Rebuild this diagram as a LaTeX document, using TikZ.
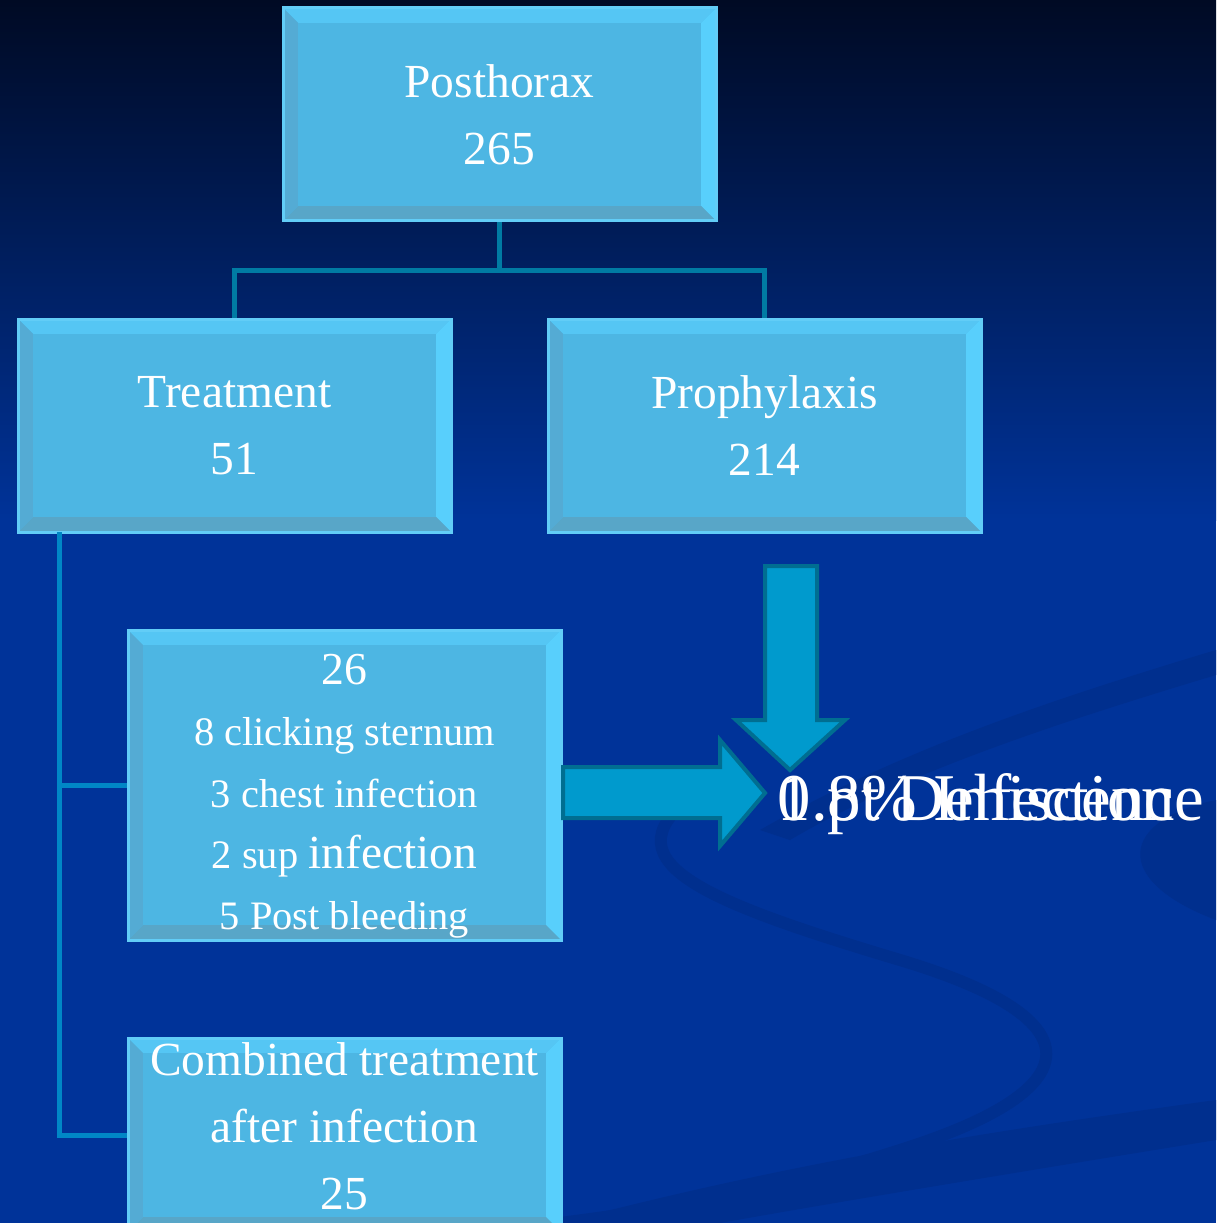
\documentclass[tikz,border=0pt]{standalone}
\usepackage{fontspec}
\setmainfont{Liberation Serif}
\definecolor{slidetop}{HTML}{000A24}
\definecolor{slidemid}{HTML}{00226E}
\definecolor{slideblue}{HTML}{003399}
\definecolor{swoosh}{HTML}{002F8E}
\definecolor{tilefill}{HTML}{4DB6E3}
\definecolor{tileedge}{HTML}{62CDF7}
\definecolor{bevtop}{HTML}{55C6F4}
\definecolor{bevright}{HTML}{58CFFC}
\definecolor{bevbottom}{HTML}{58A6C8}
\definecolor{bevleft}{HTML}{54ABD4}
\definecolor{linkteal}{HTML}{007BA3}
\definecolor{trunkblue}{HTML}{0087C6}
\definecolor{arrowfill}{HTML}{009ACD}
\definecolor{arrowedge}{HTML}{006E91}
\tikzset{
  tile/.style={draw=tileedge, line width=0.3mm, fill=tilefill, text=white,
    align=center, inner sep=0pt, minimum width=43.3mm, minimum height=21.3mm,
    font=\fontsize{13.5}{19}\selectfont,
    path picture={
      \fill[bevtop] (path picture bounding box.north west) -- (path picture bounding box.north east)
        -- ([shift={(-1.5mm,-1.5mm)}]path picture bounding box.north east)
        -- ([shift={(1.5mm,-1.5mm)}]path picture bounding box.north west) -- cycle;
      \fill[bevright] (path picture bounding box.north east) -- (path picture bounding box.south east)
        -- ([shift={(-1.5mm,1.5mm)}]path picture bounding box.south east)
        -- ([shift={(-1.5mm,-1.5mm)}]path picture bounding box.north east) -- cycle;
      \fill[bevbottom] (path picture bounding box.south east) -- (path picture bounding box.south west)
        -- ([shift={(1.5mm,1.5mm)}]path picture bounding box.south west)
        -- ([shift={(-1.5mm,1.5mm)}]path picture bounding box.south east) -- cycle;
      \fill[bevleft] (path picture bounding box.south west) -- (path picture bounding box.north west)
        -- ([shift={(1.5mm,-1.5mm)}]path picture bounding box.north west)
        -- ([shift={(1.5mm,1.5mm)}]path picture bounding box.south west) -- cycle;
      \fill[tilefill] ([shift={(1.5mm,-1.5mm)}]path picture bounding box.north west)
        rectangle ([shift={(-1.5mm,1.5mm)}]path picture bounding box.south east);
    }},
  link/.style={draw=linkteal, line width=0.5mm},
  trunk/.style={draw=trunkblue, line width=0.5mm},
  blockarrow/.style={draw=arrowedge, fill=arrowfill, line width=0.4mm, line join=miter},
  result/.style={text=white, anchor=base west, inner sep=0pt,
    font=\fontsize{19}{23}\selectfont},
}

\begin{document}
\begin{tikzpicture}[x=0.1mm, y=-0.1mm]
        % Slide background
        \clip (0,0) rectangle (1216,1223);
        \useasboundingbox (0,0) rectangle (1216,1223);
        \fill[slideblue] (0,0) rectangle (1216,1223);
        \shade[top color=slidetop, middle color=slidemid, bottom color=slideblue] (0,0) rectangle (1216,520);
        \draw[swoosh, line width=1.2mm, line cap=round] (700,790) .. controls (600,860) and (700,900) .. (900,960)
          .. controls (1100,1020) and (1090,1090) .. (900,1150) .. controls (760,1195) and (660,1210) .. (560,1223);
        \fill[swoosh] (560,1223) .. controls (800,1160) and (1000,1130) .. (1216,1100) -- (1216,1140)
          .. controls (1000,1175) and (820,1205) .. (720,1223) -- cycle;
        \fill[swoosh] (760,830) .. controls (900,750) and (1050,700) .. (1216,650) -- (1216,675)
          .. controls (1050,725) and (900,775) .. (790,840) -- cycle;
        \fill[swoosh] (1216,800) .. controls (1120,820) and (1110,880) .. (1216,920) -- cycle;

        % The tree
        \node[tile] (post) at (499.5,114.5) {Posthorax\\265};
        \node[tile] (treat) at (234.5,425.5) {Treatment\\51};
        \node[tile] (proph) at (764.5,425.5) {Prophylaxis\\214};
        \coordinate (fork) at (499.5,270);
        \draw[link] (post.south) -- (fork);
        \draw[link] (treat.north) |- (fork) -| (proph.north);

        % Treatment branches
        \node[tile, minimum height=31mm, font=\fontsize{11.5}{17.4}\selectfont] (minor) at (344.5,785)
          {{\fontsize{13}{17.4}\selectfont\rule{0pt}{15pt}26}\\8 clicking sternum\\3 chest infection\\
           2 sup {\fontsize{13.5}{17.4}\selectfont infection}\\5 Post bleeding};
        \node[tile, minimum height=19.4mm] (comb) at (344.5,1135)
          {Combined treatment\\after infection\\\rule[-5pt]{0pt}{5pt}25};
        \coordinate (trunktop) at (59,532);
        \draw[trunk] (trunktop) |- (minor.west);
        \draw[trunk] (trunktop) |- (comb.west);

        % Outcome
        \node[result] (infect) at (777,820) {0.8\% Infection};
        \node[result] (dehisc) at (777,820) {1 pt Dehiscence};
        \coordinate (rtip) at (765,793);
        \coordinate (dtip) at (790,770);
        \draw[blockarrow] (rtip) -- ++(-45,-53) -- ++(0,27) -- ++(-157,0) -- ++(0,51)
          -- ++(157,0) -- ++(0,28) -- cycle;
        \draw[blockarrow] (dtip) -- ++(55,-50) -- ++(-28,0) -- ++(0,-154) -- ++(-52,0)
          -- ++(0,154) -- ++(-29,0) -- cycle;
\end{tikzpicture}
\end{document}
